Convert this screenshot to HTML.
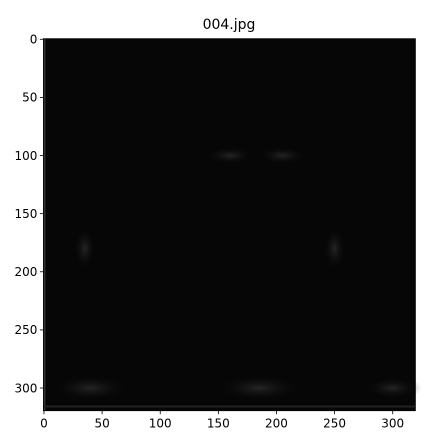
<!DOCTYPE html>
<html><head><meta charset="utf-8"><style>
body{margin:0;background:#fff;}
svg text{font-family:"DejaVu Sans","Liberation Sans",sans-serif;fill:#000;}
</style></head><body>
<svg id="chart" width="426" height="437" viewBox="0 0 426 437" xmlns="http://www.w3.org/2000/svg">
<defs>
<radialGradient id="glow" cx="50%" cy="50%" r="50%">
<stop offset="0" stop-color="#3a3a3a" stop-opacity="0.6"/><stop offset="1" stop-color="#000" stop-opacity="0"/>
</radialGradient>
</defs>
<text x="229" y="29" font-size="14" text-anchor="middle">004.jpg</text>
<g id="img"></g>
<g id="axes"></g>
</svg>
<script>
const xTicks=[0,50,100,150,200,250,300];
const yTicks=[0,50,100,150,200,250,300];
const imgW=320, imgH=320;
const L=43.4,T=38.7,S=1.1625;
const sx=v=>L+(v+0.5)*S, sy=v=>T+(v+0.5)*S;
const ns="http://www.w3.org/2000/svg";
const svg=document.getElementById('chart');
const img=document.getElementById('img');
const ax=document.getElementById('axes');
function mk(t,a,p){const e=document.createElementNS(ns,t);for(const k in a)e.setAttribute(k,a[k]);p.appendChild(e);return e;}
const bg=mk('rect',{x:sx(-0.5),y:sy(-0.5),width:imgW*S,height:imgH*S,fill:'#060606'},img);


// faint features: eyes, edges
const feats=[[160,100,22,8],[205,100,22,8],[185,300,40,12],[40,300,35,12],[300,300,25,10],[35,180,10,20],[250,180,10,20]];
feats.forEach(f=>{const e=mk('ellipse',{cx:sx(f[0]),cy:sy(f[1]),rx:f[2]*S,ry:f[3]*S,fill:'url(#glow)'},img);

});
const edgeL=mk('rect',{x:sx(-0.5),y:sy(-0.5),width:2,height:imgH*S,fill:'#333'},img);


const edgeB=mk('rect',{x:sx(-0.5),y:sy(315),width:imgW*S,height:2,fill:'#222'},img);


const frame=mk('rect',{x:sx(-0.5),y:sy(-0.5),width:imgW*S,height:imgH*S,fill:'none',stroke:'#000','stroke-width':0.8},ax);


const bottom=sy(imgH-0.5), left=sx(-0.5);
xTicks.forEach(v=>{const x=sx(v);
const l=mk('line',{x1:x,x2:x,y1:bottom,y2:bottom+3.5,stroke:'#000','stroke-width':0.8},ax);


const t=mk('text',{x:x,y:bottom+17,'font-size':12,'text-anchor':'middle'},ax);t.textContent=v;

});
yTicks.forEach(v=>{const y=sy(v);
const l=mk('line',{x1:left-3.5,x2:left,y1:y,y2:y,stroke:'#000','stroke-width':0.8},ax);


const t=mk('text',{x:left-6,y:y+4.3,'font-size':12,'text-anchor':'end'},ax);t.textContent=v;

});
</script>
</body></html>
